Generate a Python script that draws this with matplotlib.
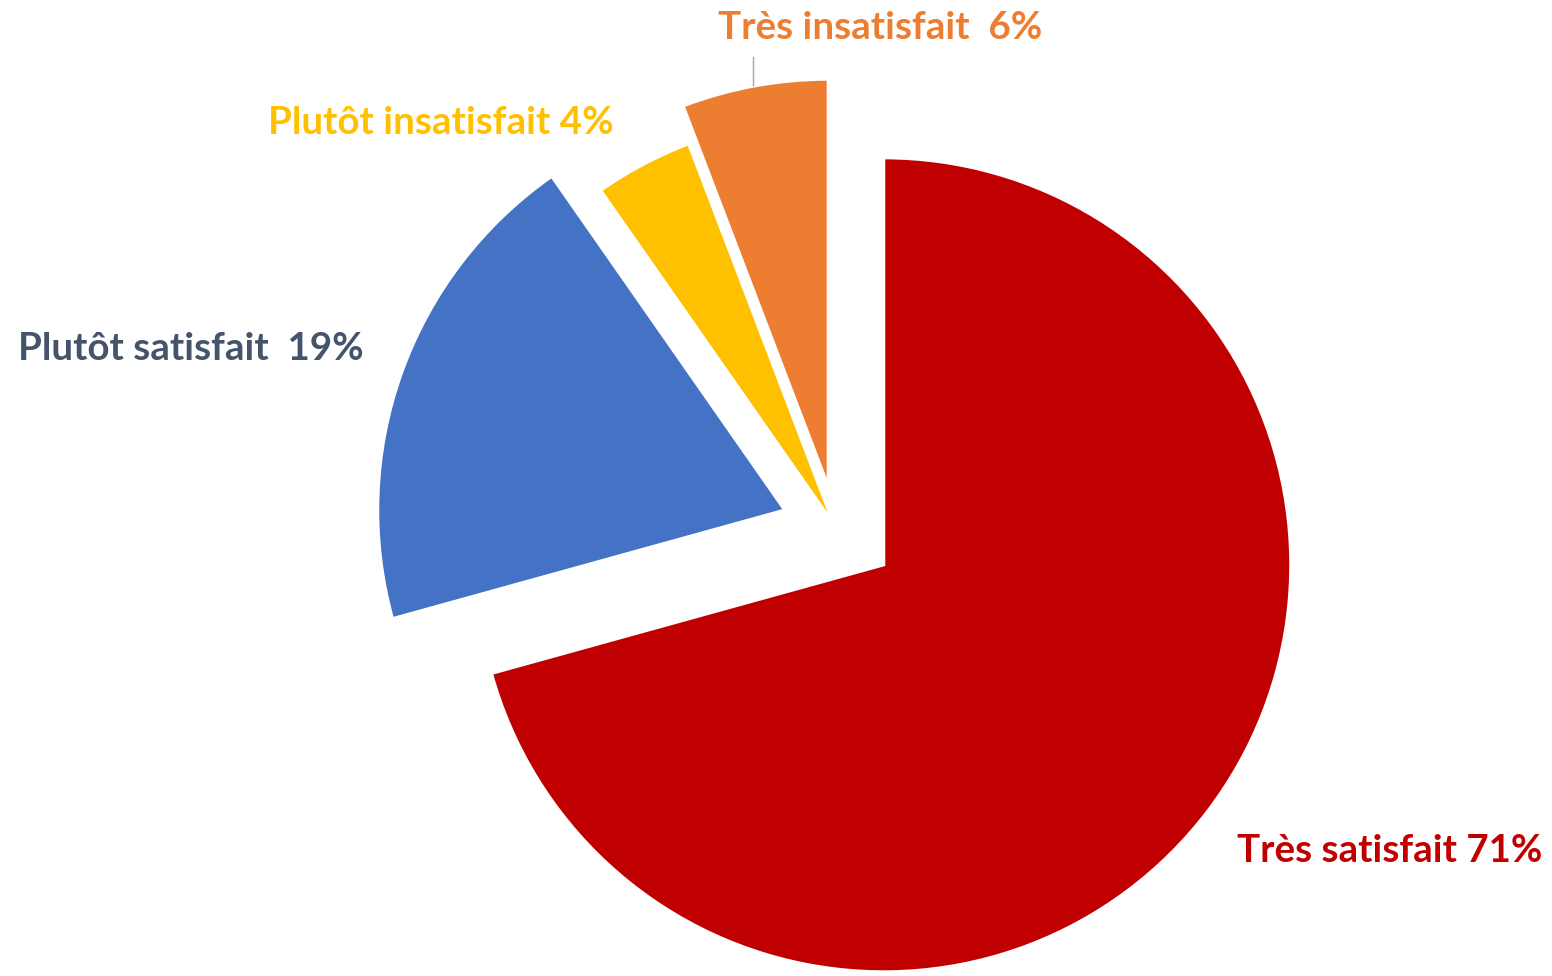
import matplotlib
matplotlib.use("Agg")
import matplotlib.pyplot as plt

categories = ["Très satisfait", "Plutôt satisfait", "Plutôt insatisfait", "Très insatisfait"]
values = [70.7, 19.6, 3.9, 5.8]
label_texts = ["Très satisfait 71%", "Plutôt satisfait  19%", "Plutôt insatisfait 4%", "Très insatisfait  6%"]
colors = ["#C00000", "#4472C4", "#FFC000", "#ED7D31"]
label_colors = ["#C00000", "#44546A", "#FFC000", "#ED7D31"]

W, H = 1552, 976
fig = plt.figure(figsize=(W / 100, H / 100), dpi=100)
ax = fig.add_axes([0, 0, 1, 1])

R = 407
center = (836, H - 528.5)
explode_px = [60, 54.5, 5, 43]
ax.pie(values, colors=colors, startangle=90, counterclock=False,
       explode=explode_px, radius=R, center=center,
       wedgeprops=dict(edgecolor="white", linewidth=2.2))

ax.set_xlim(0, W)
ax.set_ylim(0, H)
ax.set_aspect("equal")
ax.axis("off")

# label positions (center x, baseline y in pixels from top)
label_pos = [(1390, 862), (191, 360), (441, 134), (880, 39)]
for txt, col, (x, yb) in zip(label_texts, label_colors, label_pos):
    ax.text(x, H - yb, txt, color=col, ha="center", va="baseline",
            fontsize=27.7, fontweight="bold", family=["Lato", "DejaVu Sans"])

# leader line for Très insatisfait
ax.plot([753, 753], [H - 57, H - 85], color="#A6A6A6", lw=1)

fig.savefig("out.png", dpi=100)
